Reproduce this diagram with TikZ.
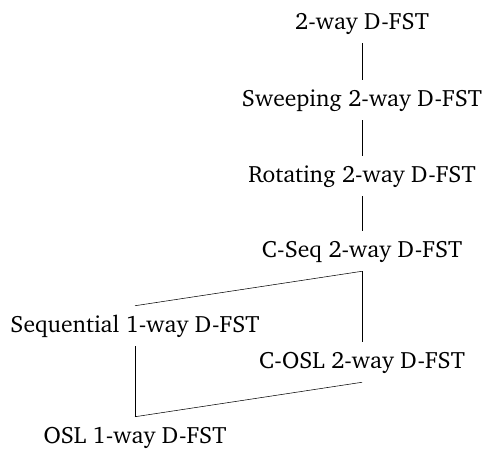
\documentclass[tikz,border=0pt]{standalone}
\usepackage[T1]{fontenc}
\renewcommand{\rmdefault}{bch}
\usepackage{tikz}
\usetikzlibrary{positioning}

\begin{document}
\begin{tikzpicture}[x=0.75pt,y=-0.75pt,
        fst/.style={anchor=base, inner sep=0pt, text height=19.5pt, text depth=10.5pt, font=\fontsize{17.7}{21}\selectfont}]
                    \useasboundingbox (0,0) rectangle (488,451);

                    \node[fst] (twoway) at (362, 29) {2-way D-FST};
                    \node[fst] (sweep) at (362, 106) {Sweeping 2-way D-FST};
                    \node[fst] (rot) at (362, 182) {Rotating 2-way D-FST};
                    \node[fst] (cseq) at (362, 257) {C-Seq 2-way D-FST};
                    \node[fst] (seq) at (135, 332) {Sequential 1-way D-FST};
                    \node[fst] (cosl) at (362, 368) {C-OSL 2-way D-FST};
                    \node[fst] (osl) at (135, 443) {OSL 1-way D-FST};

                    \draw (twoway.south) -- (sweep.north);
                    \draw (sweep.south) -- (rot.north);
                    \draw (rot.south) -- (cseq.north);
                    \draw (cseq.south) -- (seq.north);
                    \draw (cseq.south) -- (cosl.north);
                    \draw (seq.south) -- (osl.north);
                    \draw (cosl.south) -- (osl.north);
                \end{tikzpicture}
\end{document}
